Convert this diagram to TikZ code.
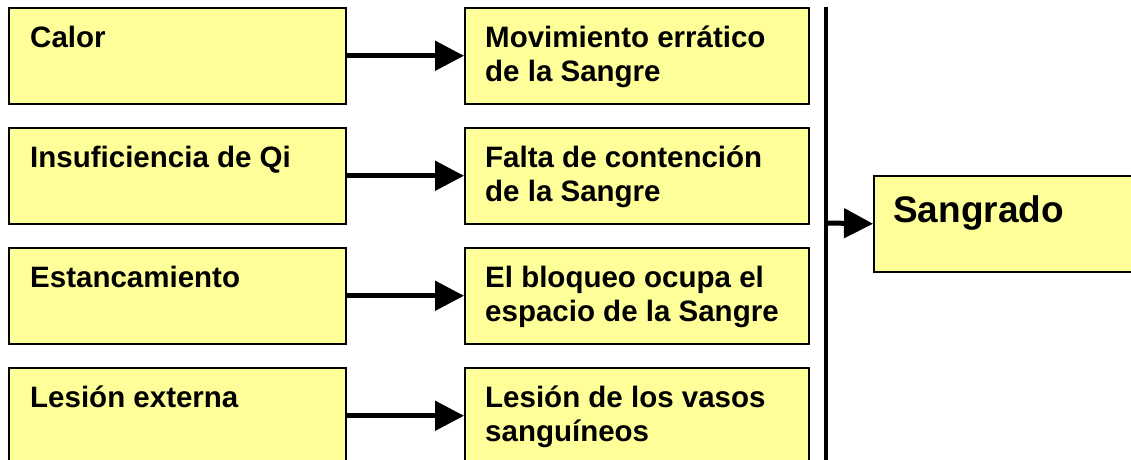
\documentclass[tikz,border=0pt]{standalone}
\usepackage{fontspec}
\setmainfont{Liberation Sans}
\usetikzlibrary{arrows.meta,calc}
\definecolor{boxfill}{HTML}{FFFF99}
\newcommand{\twol}[1]{\begin{tabular}[t]{@{}l@{}}#1\end{tabular}}
\begin{document}
\begin{tikzpicture}[x=1pt,y=-1pt,
  box/.style={draw=black, line width=1.5pt, fill=boxfill, minimum width=337pt, minimum height=96pt, inner sep=0pt, anchor=north west},
  rbox/.style={box, minimum width=344pt},
  txt/.style={anchor=base west, inner sep=0pt, font=\fontsize{29.5}{34}\selectfont\bfseries},
  bigtxt/.style={anchor=base west, inner sep=0pt, font=\fontsize{37}{42}\selectfont\bfseries},
  conn/.style={line width=5pt, -{Triangle[length=29pt,width=29pt]}},
  bus/.style={line width=4.5pt}]
\clip (0,0) rectangle (1131,459);
\useasboundingbox (0,0) rectangle (1131,459);

% left column
\node[box] (c1) at (8,7) {};
\node[box] (c2) at (8,127) {};
\node[box] (c3) at (8,247) {};
\node[box] (c4) at (8,367) {};
\node[txt] (tc1) at ($(c1.north west)+(22,40)$) {\twol{Calor}};
\node[txt] (tc2) at ($(c2.north west)+(22,40)$) {\twol{Insuficiencia de Qi}};
\node[txt] (tc3) at ($(c3.north west)+(22,40)$) {\twol{Estancamiento}};
\node[txt] (tc4) at ($(c4.north west)+(22,40)$) {\twol{Lesión externa}};

% right column
\node[rbox] (m1) at (464,7) {};
\node[rbox] (m2) at (464,127) {};
\node[rbox] (m3) at (464,247) {};
\node[rbox] (m4) at (464,367) {};
\node[txt] (tm1) at ($(m1.north west)+(21,40)$) {\twol{Movimiento errático\\de la Sangre}};
\node[txt] (tm2) at ($(m2.north west)+(21,40)$) {\twol{Falta de contención\\de la Sangre}};
\node[txt] (tm3) at ($(m3.north west)+(21,40)$) {\twol{El bloqueo ocupa el\\espacio de la Sangre}};
\node[txt] (tm4) at ($(m4.north west)+(21,40)$) {\twol{Lesión de los vasos\\sanguíneos}};

% arrows
\draw[conn] (c1.east) -- (m1.west);
\draw[conn] (c2.east) -- (m2.west);
\draw[conn] (c3.east) -- (m3.west);
\draw[conn] (c4.east) -- (m4.west);

% bus line
\coordinate (bustop) at (826,7);
\coordinate (busbot) at (826,462);
\coordinate (busmid) at (826,223);
\draw[bus] (bustop) -- (busbot);

% result
\node[box, minimum width=270pt] (s) at (873,175) {};
\node[bigtxt] (ts) at ($(s.north west)+(20,47)$) {Sangrado};
\draw[conn] (busmid) -- (s.west);
\end{tikzpicture}
\end{document}
